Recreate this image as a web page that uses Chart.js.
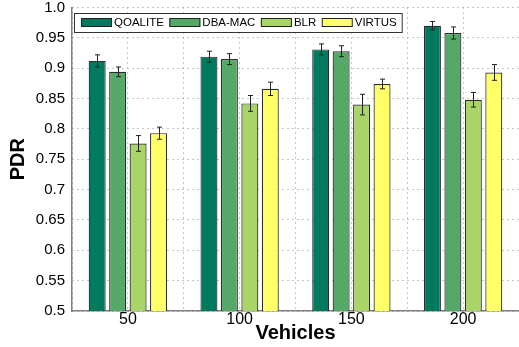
<!DOCTYPE html>
<html>
<head>
<meta charset="utf-8">
<script src="https://cdn.jsdelivr.net/npm/chart.js@4/dist/chart.umd.min.js"></script>
<style>
  html, body { margin: 0; padding: 0; background: #fff; overflow: hidden; }
  #wrap { width: 519px; height: 347px; position: relative; }
</style>
</head>
<body>
<div id="wrap"><canvas id="c" width="519" height="347"></canvas></div>
<script>
// Number of vehicles on the x axis
const categories = [50, 100, 150, 200];
const xTickLabels = ['50', '100', '150', '200'];

// Packet delivery ratio per protocol
const seriesNames = ['QOALITE', 'DBA-MAC', 'BLR', 'VIRTUS'];
const qoalite = [0.912, 0.919, 0.931, 0.970];
const dbaMac  = [0.894, 0.915, 0.928, 0.958];
const blr     = [0.776, 0.842, 0.840, 0.848];
const virtus  = [0.793, 0.866, 0.874, 0.893];

// Half-widths of the error bars
const qoaliteErr = [0.010, 0.009, 0.009, 0.007];
const dbaMacErr  = [0.008, 0.009, 0.009, 0.010];
const blrErr     = [0.013, 0.013, 0.017, 0.012];
const virtusErr  = [0.010, 0.011, 0.008, 0.013];

const yTickLabels = ['0.5', '0.55', '0.6', '0.65', '0.7', '0.75', '0.8', '0.85', '0.9', '0.95', '1.0'];

const colors = ['#007a5e', '#55a866', '#a8d468', '#ffff66'];
const seriesValues = [qoalite, dbaMac, blr, virtus];
const seriesErrors = [qoaliteErr, dbaMacErr, blrErr, virtusErr];

const datasets = seriesNames.map((name, i) => ({
  label: name,
  data: categories.map((c, j) => ({ x: c, y: seriesValues[i][j] })),
  errors: seriesErrors[i],
  backgroundColor: colors[i],
  borderColor: '#2b2b2b',
  borderWidth: 1.2,
  borderSkipped: false
}));

// Error bars with small caps, drawn from each bar's value and error
const errorBars = {
  id: 'errorBars',
  afterDatasetsDraw(chart) {
    const ctx = chart.ctx;
    const y = chart.scales.y;
    ctx.save();
    ctx.strokeStyle = '#222';
    ctx.lineWidth = 1;
    chart.data.datasets.forEach((ds, i) => {
      const meta = chart.getDatasetMeta(i);
      meta.data.forEach((bar, j) => {
        const v = ds.data[j].y, e = ds.errors[j];
        const x = Math.round(bar.x) + 0.5;
        const yt = y.getPixelForValue(v + e);
        const yb = y.getPixelForValue(v - e);
        ctx.beginPath();
        ctx.moveTo(x, yt); ctx.lineTo(x, yb);
        ctx.moveTo(x - 2.5, yt); ctx.lineTo(x + 2.5, yt);
        ctx.moveTo(x - 2.5, yb); ctx.lineTo(x + 2.5, yb);
        ctx.stroke();
      });
    });
    ctx.restore();
  }
};

// Boxed legend in the upper left of the plot
const boxedLegend = {
  id: 'boxedLegend',
  afterDraw(chart) {
    const ctx = chart.ctx;
    ctx.save();
    ctx.font = '11.5px "Liberation Sans", Arial, sans-serif';
    ctx.textBaseline = 'middle';
    const left = 74, top = 13, h = 19;
    let x = left + 7;
    const items = chart.data.datasets.map(ds => {
      const w = ctx.measureText(ds.label).width;
      const it = { ds, x, w };
      x += 33 + w + 5.5;
      return it;
    });
    const right = x - 5.5 + 5;
    ctx.fillStyle = '#fff';
    ctx.fillRect(left, top, right - left, h);
    ctx.strokeStyle = '#333';
    ctx.lineWidth = 1;
    ctx.strokeRect(left + 0.5, top + 0.5, right - left, h);
    items.forEach(it => {
      ctx.fillStyle = it.ds.backgroundColor;
      ctx.fillRect(it.x, top + 5, 31, 9);
      ctx.strokeStyle = '#222';
      ctx.strokeRect(it.x + 0.5, top + 5.5, 30, 8);
      ctx.fillStyle = '#000';
      ctx.fillText(it.ds.label, it.x + 33, top + h / 2 + 0.5);
    });
    ctx.restore();
  }
};

new Chart(document.getElementById('c'), {
  type: 'bar',
  data: { datasets },
  options: {
    responsive: false,
    animation: false,
    devicePixelRatio: 1,
    categoryPercentage: 1.464,
    barPercentage: 0.83,
    layout: { padding: { top: 7.5, right: 0, bottom: 0, left: 0 } },
    plugins: {
      legend: { display: false },
      tooltip: { enabled: false }
    },
    scales: {
      x: {
        type: 'linear',
        offset: false,
        min: 25,
        max: 225,
        afterFit(scale) { scale.height = 36; scale.paddingLeft = 0; scale.paddingRight = 0; },
        afterBuildTicks(scale) {
          scale.ticks = [];
          for (let v = 25; v <= 225; v += 25) scale.ticks.push({ value: v });
        },
        ticks: {
          autoSkip: false,
          maxRotation: 0,
          padding: 1,
          color: '#000',
          font: { family: '"Liberation Sans", Arial, sans-serif', size: 16, lineHeight: 1 },
          callback(v) {
            const k = categories.indexOf(v);
            return k >= 0 ? xTickLabels[k] : '';
          }
        },
        grid: { offset: false, color: '#8c8c8c', lineWidth: 1, drawTicks: false },
        border: { display: true, color: '#808080', width: 1.5, dash: [1, 4] },
        title: {
          display: true,
          text: 'Vehicles',
          color: '#000',
          font: { family: '"Liberation Sans", Arial, sans-serif', size: 20, weight: 'bold', lineHeight: 1 },
          padding: { top: 0, bottom: 4 }
        }
      },
      y: {
        min: 0.5,
        max: 1.0,
        afterFit(scale) { scale.width = 72; scale.paddingTop = 0; scale.paddingBottom = 0; },
        afterBuildTicks(scale) {
          scale.ticks = yTickLabels.map((_, k) => ({ value: 0.5 + k * 0.05 }));
        },
        ticks: {
          padding: 7,
          color: '#000',
          font: { family: '"Liberation Sans", Arial, sans-serif', size: 15, lineHeight: 1 },
          callback(v) {
            return yTickLabels[Math.round((v - 0.5) / 0.05)];
          }
        },
        grid: { color: '#8c8c8c', lineWidth: 1, drawTicks: false },
        border: { display: true, color: '#808080', width: 1.5, dash: [1, 4] },
        title: {
          display: true,
          text: 'PDR',
          color: '#000',
          font: { family: '"Liberation Sans", Arial, sans-serif', size: 20, weight: 'bold', lineHeight: 1 },
          padding: { top: 8, bottom: 0 }
        }
      }
    }
  },
  plugins: [errorBars, boxedLegend]
});
</script>
</body>
</html>
